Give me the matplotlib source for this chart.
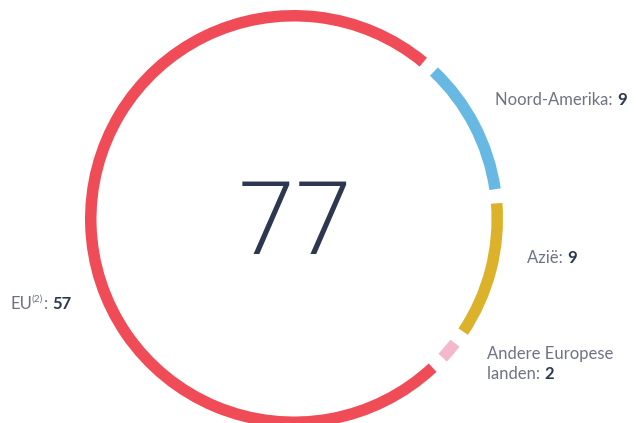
import matplotlib
matplotlib.use("Agg")
import matplotlib.pyplot as plt
from matplotlib.patches import Wedge

categories = ["Noord-Amerika", "Azië", "Andere Europese landen", "EU"]
values = [9, 9, 2, 57]
colors = ["#67B8E3", "#DDB22B", "#F5B7CB", "#EF4C58"]
total_label = "77"

W, H = 637, 423
fig = plt.figure(figsize=(W / 100, H / 100), dpi=100)
ax = fig.add_axes([0, 0, 1, 1])
ax.set_xlim(0, W)
ax.set_ylim(0, H)
ax.set_aspect("equal")
ax.axis("off")

cx, cy = 294, H - 219
R = 209
width = 11.5
gap = 2.0  # degrees on each side
start = 90 - 41.5  # math angle of first boundary (clockwise drawing)
tot = sum(values)
ang = start
for v, c in zip(values, colors):
    span = v / tot * 360
    t2 = ang
    t1 = ang - span
    ax.add_patch(Wedge((cx, cy), R, t1 + gap, t2 - gap, width=width,
                       facecolor=c, edgecolor="none"))
    ang = t1

ax.text(cx, H - 254, total_label, ha="center", va="baseline", fontsize=73,
        family="Open Sans", fontweight="light", color="#2D3850")

gray = "#6E7383"
dark = "#2D3850"
fs = 12
fam = "Lato"


def label(x, y, parts):
    prev = None
    for txt, kind in parts:
        if kind == "b":
            kw = dict(fontsize=fs, color=dark, fontweight="bold")
        else:
            kw = dict(fontsize=fs, color=gray)
        if prev is None:
            prev = ax.text(x, H - y, txt, ha="left", va="baseline", family=fam, **kw)
        else:
            prev = ax.annotate(txt, xy=(1, 0), xycoords=prev, ha="left",
                               va="bottom", family=fam, **kw)
    return prev


label(495, 105, [("Noord-Amerika: ", "n"), ("9", "b")])
label(527, 263, [("Azië: ", "n"), ("9", "b")])
ax.text(487, H - 359, "Andere Europese", ha="left", va="baseline", family=fam,
        fontsize=fs, color=gray)
label(487, 379, [("landen: ", "n"), ("2", "b")])

t = ax.text(10, H - 309, "EU", ha="left", va="baseline", family=fam,
            fontsize=fs, color=gray)
s = ax.annotate("(2)", xy=(1, 0.5), xycoords=t, ha="left", va="bottom",
                family=fam, fontsize=fs * 0.6, color=gray)
c2 = ax.annotate(": ", xy=(1, 0), xycoords=t, xytext=(fs * 0.6 * 1.2, 0),
                 textcoords="offset points", ha="left", va="bottom",
                 family=fam, fontsize=fs, color=gray)
ax.annotate("57", xy=(1, 0), xycoords=c2, ha="left", va="bottom",
            family=fam, fontsize=fs, color=dark, fontweight="bold")

fig.savefig("out.png", dpi=100, facecolor="white")
